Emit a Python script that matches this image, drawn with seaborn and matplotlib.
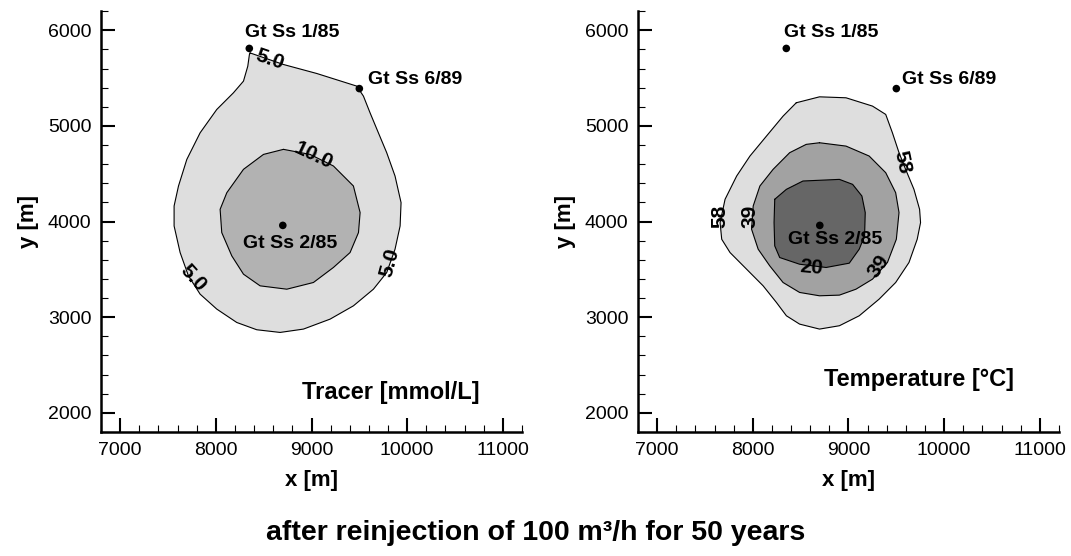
import numpy as np
import pandas as pd
import matplotlib
matplotlib.use('Agg')
import matplotlib.pyplot as plt
import seaborn as sns
from matplotlib.ticker import MultipleLocator

# wells (x, y in m)
well_names = ['Gt Ss 1/85', 'Gt Ss 6/89', 'Gt Ss 2/85']
well_x = [8350, 9500, 8700]
well_y = [5810, 5390, 3960]

# tracer contours (outlines)
tracer_5_x = [8358, 8707, 9055, 9473, 9543, 9612, 9699, 9786, 9873, 9936, 9926, 9873,
              9786, 9647, 9438, 9194, 8916, 8672, 8428, 8219, 8010, 7836, 7714, 7627,
              7564, 7564, 7610, 7697, 7836, 8010, 8184, 8289, 8334, 8351]
tracer_5_y = [5763, 5642, 5548, 5416, 5311, 5137, 4928, 4720, 4476, 4198, 3954, 3711,
              3467, 3293, 3119, 2980, 2876, 2841, 2869, 2945, 3085, 3241, 3432, 3676,
              3954, 4163, 4372, 4650, 4928, 5172, 5346, 5468, 5624, 5746]
tracer_10_x = [8707, 8985, 9229, 9438, 9508, 9491, 9403, 9229, 9020, 8742, 8463, 8289,
               8167, 8062, 8045, 8115, 8289, 8498]
tracer_10_y = [4755, 4702, 4581, 4372, 4094, 3885, 3676, 3520, 3363, 3293, 3328, 3450,
               3641, 3885, 4128, 4302, 4546, 4702]

# temperature contours
temp_58_x = [8454, 8697, 8974, 9251, 9389, 9459, 9528, 9597, 9684, 9743, 9753, 9718,
             9632, 9493, 9320, 9112, 8905, 8697, 8489, 8351, 8247, 8108, 7935, 7762,
             7675, 7658, 7710, 7831, 7970, 8143, 8316]
temp_58_y = [5242, 5304, 5294, 5207, 5120, 4928, 4720, 4546, 4337, 4128, 3989, 3815,
             3572, 3363, 3189, 3015, 2911, 2876, 2928, 3015, 3154, 3328, 3502, 3676,
             3815, 3989, 4233, 4476, 4685, 4894, 5102]
temp_39_x = [8697, 8974, 9216, 9389, 9493, 9528, 9500, 9407, 9251, 9078, 8905, 8697,
             8489, 8316, 8177, 8056, 7987, 8004, 8074, 8212, 8385, 8558]
temp_39_y = [4824, 4789, 4685, 4511, 4302, 4094, 3815, 3572, 3398, 3293, 3231, 3224,
             3259, 3363, 3537, 3711, 3920, 4163, 4372, 4546, 4720, 4807]
temp_20_x = [8229, 8351, 8524, 8905, 9043, 9140, 9175, 9168, 9112, 9008, 8766, 8489,
             8281, 8229, 8222]
temp_20_y = [4233, 4337, 4424, 4441, 4389, 4267, 4094, 3850, 3711, 3565, 3520, 3554,
             3624, 3746, 3989]

# contour labels: text, x, y, rotation
tracer_labels = [('5.0', 8567, 5694, -19), ('10.0', 9020, 4685, -25),
                 ('5.0', 7759, 3405, -48), ('5.0', 9821, 3572, 75)]
temp_labels = [('58', 9563, 4622, -78), ('58', 7658, 4059, 90), ('39', 7970, 4059, 90),
               ('39', 9320, 3537, 55), ('20', 8610, 3520, -5)]

sns.set_style('ticks')
plt.rcParams['font.family'] = ['Liberation Sans', 'DejaVu Sans']
plt.rcParams.update({'text.color': 'black', 'axes.labelcolor': 'black',
                     'xtick.color': 'black', 'ytick.color': 'black',
                     'axes.edgecolor': 'black'})

fig = plt.figure(figsize=(10.71, 5.56), dpi=100)
ax1 = fig.add_axes([0.0943, 0.223, 0.3931, 0.757])
ax2 = fig.add_axes([0.5957, 0.223, 0.3931, 0.757])


def draw_region(ax, xs, ys, color):
    ax.fill(xs, ys, color=color, lw=0, zorder=1)
    df = pd.DataFrame({'x': xs + xs[:1], 'y': ys + ys[:1]})
    sns.lineplot(data=df, x='x', y='y', sort=False, estimator=None,
                 color='black', lw=0.8, ax=ax, zorder=2)


draw_region(ax1, tracer_5_x, tracer_5_y, '#dedede')
draw_region(ax1, tracer_10_x, tracer_10_y, '#b2b2b2')
draw_region(ax2, temp_58_x, temp_58_y, '#dedede')
draw_region(ax2, temp_39_x, temp_39_y, '#a2a2a2')
draw_region(ax2, temp_20_x, temp_20_y, '#666666')

wells = pd.DataFrame({'name': well_names, 'x': well_x, 'y': well_y})
well_label_pos = {
    ax1: [(8300, 5975), (9590, 5485), (8282, 3770)],
    ax2: [(8323, 5972), (9563, 5485), (8371, 3808)],
}
for ax, labels in [(ax1, tracer_labels), (ax2, temp_labels)]:
    sns.scatterplot(data=wells, x='x', y='y', color='black', s=30,
                    edgecolor='none', ax=ax, zorder=4)
    for name, (tx, ty) in zip(well_names, well_label_pos[ax]):
        ax.text(tx, ty, name, fontsize=14, fontweight='bold', ha='left',
                va='center', zorder=5)
    for txt, lx, ly, rot in labels:
        ax.text(lx, ly, txt, fontsize=15, fontweight='bold', ha='center',
                va='center', rotation=rot, rotation_mode='anchor', zorder=5)
    ax.set_xlim(6800, 11200)
    ax.set_ylim(1800, 6200)
    ax.xaxis.set_major_locator(MultipleLocator(1000))
    ax.xaxis.set_minor_locator(MultipleLocator(200))
    ax.yaxis.set_major_locator(MultipleLocator(1000))
    ax.yaxis.set_minor_locator(MultipleLocator(200))
    ax.tick_params(which='major', direction='in', length=10, width=1.5,
                   labelsize=14, pad=7)
    ax.tick_params(which='minor', direction='in', length=5, width=0.8)
    for sp in ['left', 'bottom']:
        ax.spines[sp].set_linewidth(1.8)
    sns.despine(ax=ax)
    ax.set_xlabel('x [m]', fontsize=16, fontweight='bold', labelpad=8)
    ax.set_ylabel('y [m]', fontsize=16, fontweight='bold', labelpad=6)
    ax.set_facecolor('white')

ax1.text(8897, 2215, 'Tracer [mmol/L]', fontsize=17, fontweight='bold',
         ha='left', va='center')
ax2.text(8749, 2354, 'Temperature [°C]', fontsize=17, fontweight='bold',
         ha='left', va='center')

fig.text(0.5, 1 - 533 / 556, 'after reinjection of 100 m³/h for 50 years',
         fontsize=20.5, fontweight='bold', ha='center', va='center')

fig.savefig('out.png', dpi=100)
